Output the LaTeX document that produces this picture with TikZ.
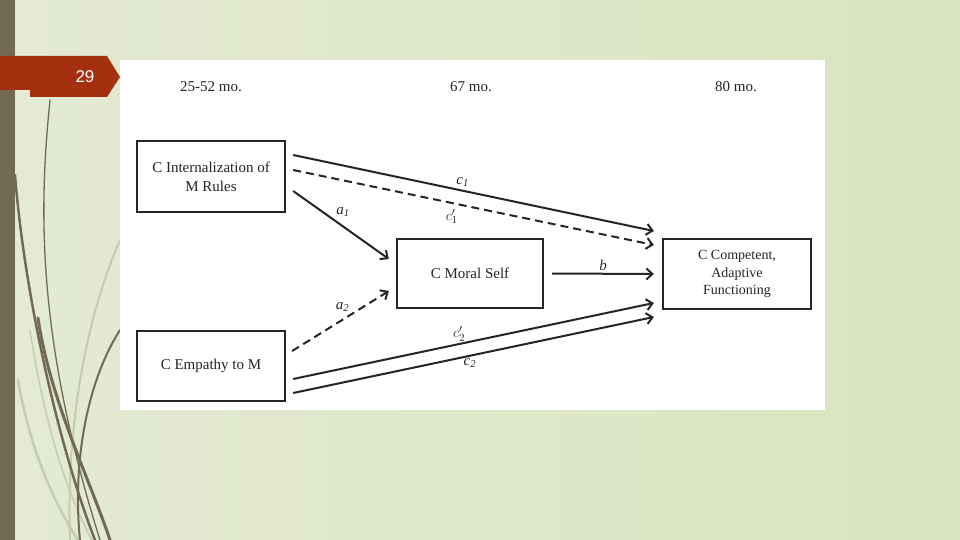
\documentclass[tikz,border=0pt]{standalone}
\usepackage{fontspec}
\setmainfont{Liberation Serif}
\newfontfamily\slidefont{Liberation Sans}
\usepackage{tikz}
\usetikzlibrary{arrows.meta,positioning,calc}
\definecolor{olive}{HTML}{736B51}
\definecolor{rust}{HTML}{A5300F}
\definecolor{wisp}{HTML}{C5CEAC}
\definecolor{ink}{HTML}{252525}
\definecolor{bgleft}{HTML}{E4EAD4}
\definecolor{bgmid}{HTML}{EDF1E2}
\definecolor{bgright}{HTML}{D9E4BE}
\newcommand{\pathc}[2]{\textit{#1}\textsubscript{\textit{#2}}}
\newcommand{\pathcp}[2]{$#1'_{#2}$}
\tikzset{
    box/.style={draw=ink, line width=2.3pt, fill=white, align=center, text=ink, font=\fontsize{15}{19}\selectfont, minimum width=148pt, minimum height=71pt, inner sep=2pt},
    arrow/.style={-{Straight Barb[length=6pt,width=11pt]}, line width=2pt, draw=ink},
    dasharrow/.style={arrow, dash pattern=on 8pt off 5pt},
    coef/.style={font=\fontsize{15}{15}\selectfont, text=ink, inner sep=2pt},
    period/.style={font=\fontsize{15}{15}\selectfont, text=ink},
    stem/.style={draw=olive, line cap=round},
    pale/.style={draw=wisp, line cap=round}
}

\begin{document}
\begin{tikzpicture}[x=1pt, y=-1pt]
  % Slide background
  \useasboundingbox (0,0) rectangle (960,540);
  \shade[left color=bgleft, middle color=bgmid, right color=bgright] (0,0) rectangle (960,540);

  % Wisp stems
  \draw[pale, line width=2.5pt] (18,380) .. controls (30,450) and (55,505) .. (78,540);
  \draw[pale, line width=2pt] (120,240) .. controls (85,320) and (66,430) .. (70,540);
  \draw[pale, line width=1.5pt] (30,330) .. controls (45,430) and (70,500) .. (92,540);
  \draw[stem, line width=1.3pt] (50,100) .. controls (40,200) and (34,330) .. (100,540);
  \draw[stem, line width=2.5pt] (15,175) .. controls (25,300) and (60,450) .. (95,540);
  \draw[stem, line width=2pt] (120,330) .. controls (88,380) and (72,460) .. (80,540);
  \draw[stem, line width=3pt] (38,318) .. controls (50,400) and (90,480) .. (110,540);

  % Side bar and slide number
  \fill[olive] (0,0) rectangle (15,540);
  \fill[rust] (0,56) -- (107,56) -- (120,77) -- (107,97) -- (30,97) -- (30,90) -- (0,90) -- cycle;
  \node[font=\slidefont\fontsize{17}{17}\selectfont, text=white] (slideno) at (85,77) {29};

  % Figure panel
  \fill[white] (120,60) rectangle (825,410);

  % Time points
  \node[period] (t1) at (211,87) {25-52 mo.};
  \node[period] (t2) at (471,87) {67 mo.};
  \node[period] (t3) at (736,87) {80 mo.};

  % Variables
  \node[box] (intl) at (211,176.5) {C Internalization of\\M Rules};
  \node[box, minimum width=146pt, minimum height=69pt] (moral) at (470,273.5) {C Moral Self};
  \node[box, minimum height=70pt, font=\fontsize{14}{17.5}\selectfont] (comp) at (737,274) {C Competent,\\Adaptive\\Functioning};
  \node[box, minimum height=70pt] (emp) at (211,366) {C Empathy to M};

  % Paths
  \draw[arrow] ([xshift=7pt,yshift=21.5pt]intl.east) -- node[coef, pos=0.47, above=1pt] {\pathc{c}{1}} ([xshift=-8pt,yshift=43pt]comp.west);
  \draw[dasharrow] ([xshift=7pt,yshift=6.5pt]intl.east) -- node[coef, pos=0.44, below=3pt] {\pathcp{c}{1}} ([xshift=-8pt,yshift=29pt]comp.west);
  \draw[arrow] ([xshift=7pt,yshift=-14.5pt]intl.east) -- node[coef, pos=0.42, above right] {\pathc{a}{1}} ([xshift=-7pt,yshift=14.5pt]moral.west);
  \draw[arrow] ([xshift=8pt]moral.east) -- node[coef, above] {\textit{b}} ([xshift=-8pt]comp.west);
  \draw[dasharrow] ([xshift=6pt,yshift=15pt]emp.east) -- node[coef, pos=0.52, above=5pt] {\pathc{a}{2}} ([xshift=-7pt,yshift=-17.5pt]moral.west);
  \draw[arrow] ([xshift=7pt,yshift=-13pt]emp.east) -- node[coef, pos=0.46, above] {\pathcp{c}{2}} ([xshift=-8pt,yshift=-29pt]comp.west);
  \draw[arrow] ([xshift=7pt,yshift=-27pt]emp.east) -- node[coef, pos=0.49, below] {\pathc{c}{2}} ([xshift=-8pt,yshift=-43pt]comp.west);
\end{tikzpicture}
\end{document}
